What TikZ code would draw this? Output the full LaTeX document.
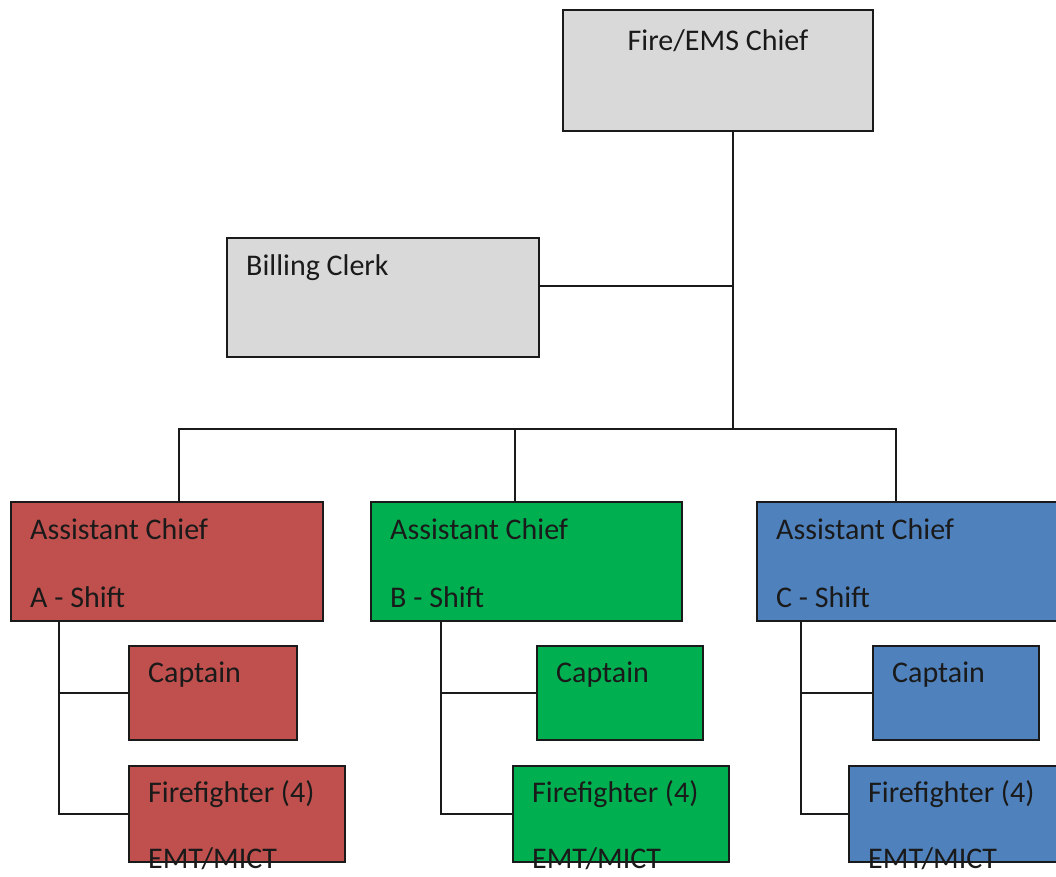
\documentclass[tikz,border=0pt]{standalone}
\usepackage{fontspec}
\setmainfont{Carlito}
\usepackage{tikz}
\usetikzlibrary{calc}
\definecolor{boxGray}{RGB}{217,217,217}
\definecolor{shiftA}{RGB}{192,80,77}
\definecolor{shiftB}{RGB}{0,176,80}
\definecolor{shiftC}{RGB}{79,129,189}
\definecolor{inkDark}{RGB}{26,26,26}

\begin{document}
\begin{tikzpicture}[x=1pt, y=-1pt,
    box/.style={draw=inkDark, line width=2pt, rectangle, inner sep=0pt, outer sep=0pt, anchor=north west},
    lbl/.style={anchor=base west, inner sep=0pt, text=inkDark, font=\fontsize{30}{36}\selectfont},
    wire/.style={draw=inkDark, line width=1.8pt}]
    \useasboundingbox (0,0) rectangle (1056,876);
    \clip (0,0) rectangle (1056,876);

    % top level
    \node[box, fill=boxGray, minimum width=310, minimum height=121] (chief) at (563,10) {};
    \node[box, fill=boxGray, minimum width=312, minimum height=119] (clerk) at (227,238) {};
    \node[lbl, anchor=base] (chiefT) at ($(chief.north)+(0,40)$) {Fire/EMS Chief};
    \node[lbl] (clerkT) at ($(clerk.north west)+(19,37)$) {Billing Clerk};

    % assistant chiefs
    \node[box, fill=shiftA, minimum width=312, minimum height=119] (asstA) at (11,502) {};
    \node[box, fill=shiftB, minimum width=311, minimum height=119] (asstB) at (371,502) {};
    \node[box, fill=shiftC, minimum width=312, minimum height=119] (asstC) at (757,502) {};
    \node[lbl] (asstAT) at ($(asstA.north west)+(19,37)$) {Assistant Chief};
    \node[lbl] (asstAS) at ($(asstA.north west)+(19,105)$) {A - Shift};
    \node[lbl] (asstBT) at ($(asstB.north west)+(19,37)$) {Assistant Chief};
    \node[lbl] (asstBS) at ($(asstB.north west)+(19,105)$) {B - Shift};
    \node[lbl] (asstCT) at ($(asstC.north west)+(19,37)$) {Assistant Chief};
    \node[lbl] (asstCS) at ($(asstC.north west)+(19,105)$) {C - Shift};

    % captains
    \node[box, fill=shiftA, minimum width=168, minimum height=94] (captA) at (129,646) {};
    \node[box, fill=shiftB, minimum width=166, minimum height=94] (captB) at (537,646) {};
    \node[box, fill=shiftC, minimum width=166, minimum height=94] (captC) at (873,646) {};
    \node[lbl] (captAT) at ($(captA.north west)+(19,36)$) {Captain};
    \node[lbl] (captBT) at ($(captB.north west)+(19,36)$) {Captain};
    \node[lbl] (captCT) at ($(captC.north west)+(19,36)$) {Captain};

    % firefighters
    \node[box, fill=shiftA, minimum width=216, minimum height=96] (ffA) at (129,766) {};
    \node[box, fill=shiftB, minimum width=216, minimum height=96] (ffB) at (513,766) {};
    \node[box, fill=shiftC, minimum width=216, minimum height=96] (ffC) at (849,766) {};
    \node[lbl] (ffAT) at ($(ffA.north west)+(19,36)$) {Firefighter (4)};
    \node[lbl] (ffAS) at ($(ffA.north west)+(19,102)$) {EMT/MICT};
    \node[lbl] (ffBT) at ($(ffB.north west)+(19,36)$) {Firefighter (4)};
    \node[lbl] (ffBS) at ($(ffB.north west)+(19,102)$) {EMT/MICT};
    \node[lbl] (ffCT) at ($(ffC.north west)+(19,36)$) {Firefighter (4)};
    \node[lbl] (ffCS) at ($(ffC.north west)+(19,102)$) {EMT/MICT};

    % connectors
    \coordinate (hub) at (733,429);
    \coordinate (clerkJoin) at (733,286);
    \coordinate (dropA) at (179,429);
    \coordinate (dropB) at (515,429);
    \coordinate (dropC) at (896,429);
    \coordinate (spineA) at (59,621);
    \coordinate (spineB) at (441,621);
    \coordinate (spineC) at (801,621);

    \draw[wire] (chief.south -| hub) -- (hub);
    \draw[wire] (clerk.east |- clerkJoin) -- (clerkJoin);
    \draw[wire] (asstA.north -| dropA) -- (dropA) -- (dropC) -- (asstC.north -| dropC);
    \draw[wire] (dropB) -- (asstB.north -| dropB);

    \draw[wire] (asstA.south -| spineA) |- (ffA.west);
    \draw[wire] (spineA |- captA.west) -- (captA.west);
    \draw[wire] (asstB.south -| spineB) |- (ffB.west);
    \draw[wire] (spineB |- captB.west) -- (captB.west);
    \draw[wire] (asstC.south -| spineC) |- (ffC.west);
    \draw[wire] (spineC |- captC.west) -- (captC.west);
\end{tikzpicture}
\end{document}
